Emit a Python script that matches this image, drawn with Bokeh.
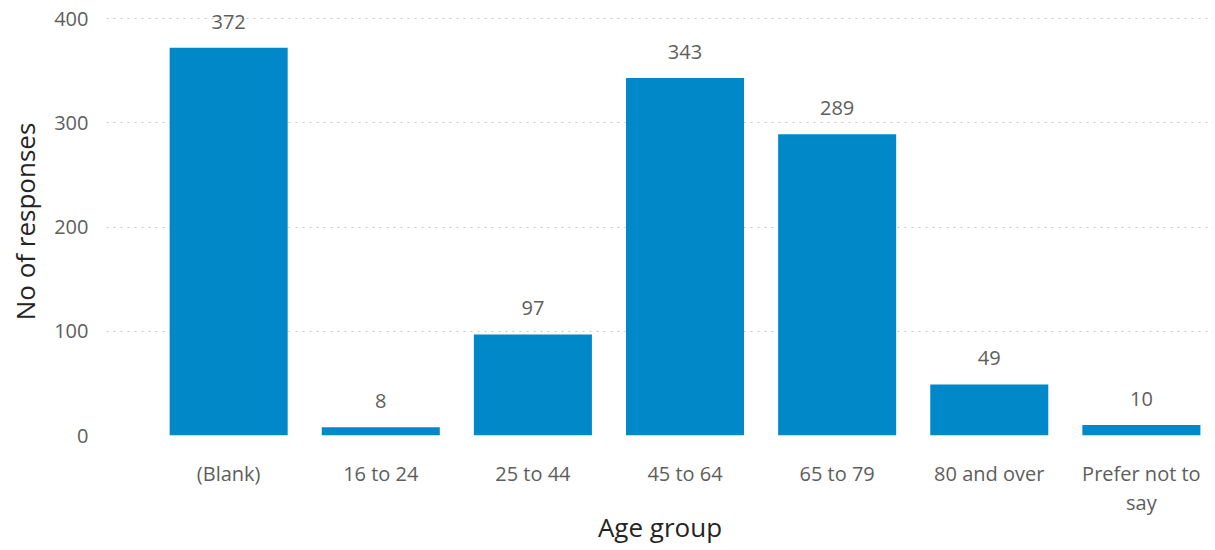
from bokeh.plotting import figure
from bokeh.models import ColumnDataSource, Range1d, FixedTicker, LabelSet
from bokeh.core.properties import value
from bokeh.embed import file_html
from bokeh.resources import INLINE

categories = ["(Blank)", "16 to 24", "25 to 44", "45 to 64", "65 to 79", "80 and over", "Prefer not to\nsay"]
responses = [372, 8, 97, 343, 289, 49, 10]
y_ticks = [0, 100, 200, 300, 400]

FONT = "Open Sans"
xs = list(range(len(categories)))
src = ColumnDataSource(dict(x=xs, top=responses, label=[str(v) for v in responses]))

p = figure(width=1213, height=548, output_backend="svg", toolbar_location=None,
           x_range=Range1d(-0.803, 6.474), y_range=Range1d(0, 410.6),
           min_border_left=106, min_border_right=0, min_border_top=7, min_border_bottom=100)
p.outline_line_color = None
p.background_fill_color = "white"

p.vbar(x="x", top="top", width=0.776, bottom=0, source=src, color="#0088c8", line_color=None)

labels = LabelSet(x="x", y="top", text="label", source=src, text_align="center",
                  text_baseline="middle", y_offset=26, text_font=value(FONT),
                  text_font_size=value("20px"), text_color=value("#605e5c"))
p.add_layout(labels)

p.xaxis.ticker = FixedTicker(ticks=xs)
p.xaxis.major_label_overrides = {i: c for i, c in enumerate(categories)}
p.yaxis.ticker = FixedTicker(ticks=y_ticks)

for ax in (p.xaxis, p.yaxis):
    ax.axis_line_color = None
    ax.major_tick_line_color = None
    ax.minor_tick_line_color = None
    ax.major_tick_out = 0
    ax.major_tick_in = 0
    ax.minor_tick_out = 0
    ax.minor_tick_in = 0
    ax.major_label_text_font = FONT
    ax.major_label_text_font_size = "20px"
    ax.major_label_text_color = "#605e5c"
    ax.major_label_text_line_height = 1.1
    ax.axis_label_text_font = FONT
    ax.axis_label_text_font_size = "26px"
    ax.axis_label_text_font_style = "normal"
    ax.axis_label_text_color = "#252423"

p.xaxis.axis_label = "Age group"
p.yaxis.axis_label = "No of responses"
p.xaxis.major_label_standoff = 24
p.xaxis.axis_label_standoff = -10
p.yaxis.major_label_standoff = 18
p.yaxis.axis_label_standoff = 8

p.xgrid.grid_line_color = None
p.ygrid.grid_line_color = "#c8c8c8"
p.ygrid.grid_line_dash = "2 5"
p.ygrid.grid_line_width = 1

open("out.html", "w").write(file_html(p, INLINE))
